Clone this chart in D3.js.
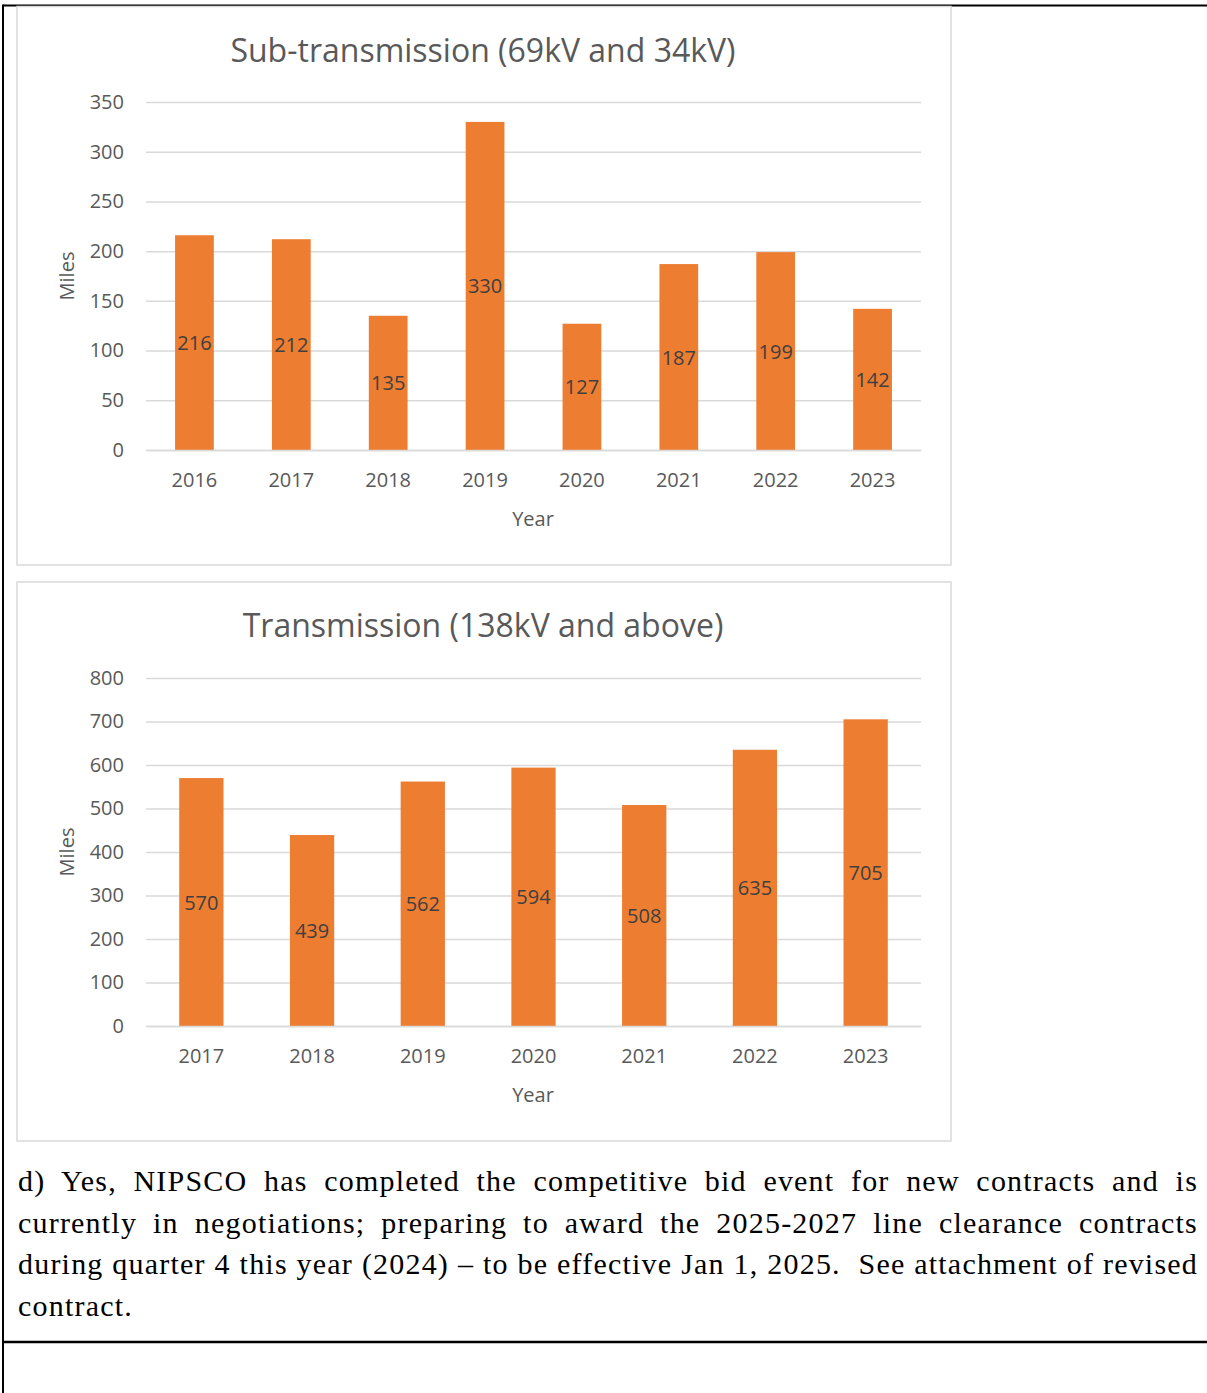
<!DOCTYPE html>
<html>
<head>
<meta charset="utf-8">
<script src="https://cdn.jsdelivr.net/npm/d3@7"></script>
<style>
  html, body { margin: 0; padding: 0; background: #fff; }
  #wrap { position: relative; width: 1207px; height: 1393px; overflow: hidden; }
  svg { position: absolute; left: 0; top: 0; }
  #para { position: absolute; left: 18px; top: 1160px; width: 1180px;
          font-family: "Liberation Serif", "DejaVu Serif", serif; font-size: 30px; color: #000;
          letter-spacing: 1.2px; }
  #para div { line-height: 41.7px; white-space: nowrap; }
  #para div.j { text-align: justify; text-align-last: justify; white-space: normal; }
</style>
</head>
<body>
<div id="wrap">
<svg id="chart" width="1207" height="1393"></svg>
<div id="para">
  <div class="j">d) Yes, NIPSCO has completed the competitive bid event for new contracts and is</div>
  <div class="j">currently in negotiations; preparing to award the 2025-2027 line clearance contracts</div>
  <div class="j">during quarter 4 this year (2024) – to be effective Jan 1, 2025.&nbsp; See attachment of revised</div>
  <div>contract.</div>
</div>
</div>
<script>
const subYears = ["2016","2017","2018","2019","2020","2021","2022","2023"];
const subValues = [216, 212, 135, 330, 127, 187, 199, 142];
const subTicks = [0, 50, 100, 150, 200, 250, 300, 350];

const transYears = ["2017","2018","2019","2020","2021","2022","2023"];
const transValues = [570, 439, 562, 594, 508, 635, 705];
const transTicks = [0, 100, 200, 300, 400, 500, 600, 700, 800];

const svg = d3.select("#chart");
const FONT = "'Open Sans', 'Noto Sans', sans-serif";

// page lines
svg.append("line").attr("x1", 3).attr("x2", 1207).attr("y1", 5.5).attr("y2", 5.5).attr("stroke", "#000").attr("stroke-width", 2);
svg.append("line").attr("x1", 3).attr("x2", 3).attr("y1", 4.5).attr("y2", 1393).attr("stroke", "#000").attr("stroke-width", 2);
svg.append("line").attr("x1", 3).attr("x2", 1207).attr("y1", 1342).attr("y2", 1342).attr("stroke", "#000").attr("stroke-width", 2.5);

function drawChart(cfg) {
  const g = svg.append("g");
  g.append("rect").attr("x", cfg.box[0]).attr("y", cfg.box[1])
    .attr("width", cfg.box[2]).attr("height", cfg.box[3])
    .attr("fill", "#fff").attr("stroke", "#d9d9d9").attr("stroke-width", 1.5);

  const x = d3.scaleBand().domain(cfg.cats).range([146, 921]).paddingInner(0.6).paddingOuter(0.3);
  const y = d3.scaleLinear().domain([0, cfg.ticks[cfg.ticks.length - 1]]).range([cfg.y0, cfg.yTop]);

  g.append("text").attr("x", 483).attr("y", cfg.titleY).attr("text-anchor", "middle")
    .attr("dominant-baseline", "central").attr("font-family", FONT).attr("font-size", 32)
    .attr("fill", "#595959").text(cfg.title);

  // gridlines
  const yAxis = d3.axisLeft(y).tickValues(cfg.ticks).tickSize(-(921 - 146)).tickPadding(22).tickFormat(d3.format("d"));
  const ya = g.append("g").attr("transform", "translate(146,0)").call(yAxis);
  ya.select(".domain").remove();
  ya.selectAll(".tick line").attr("stroke", "#d9d9d9").attr("stroke-width", 1.5);
  ya.selectAll(".tick text").attr("font-family", FONT).attr("font-size", 20).attr("fill", "#595959");

  // bars
  g.selectAll("rect.bar").data(cfg.values).join("rect").attr("class", "bar")
    .attr("x", (d, i) => x(cfg.cats[i])).attr("width", x.bandwidth())
    .attr("y", d => y(d)).attr("height", d => y(0) - y(d)).attr("fill", "#ED7D31");

  // data labels
  g.selectAll("text.lbl").data(cfg.values).join("text").attr("class", "lbl")
    .attr("x", (d, i) => x(cfg.cats[i]) + x.bandwidth() / 2)
    .attr("y", d => (y(0) + y(d)) / 2)
    .attr("text-anchor", "middle").attr("dominant-baseline", "central")
    .attr("font-family", FONT).attr("font-size", 20).attr("fill", "#404040")
    .text(d => d);

  // x axis
  const xAxis = d3.axisBottom(x).tickSize(0).tickPadding(23);
  const xa = g.append("g").attr("transform", `translate(0,${cfg.y0})`).call(xAxis);
  xa.select(".domain").attr("stroke", "#d9d9d9").attr("stroke-width", 1.5);
  xa.selectAll(".tick text").attr("font-family", FONT).attr("font-size", 20).attr("fill", "#595959");

  g.append("text").attr("x", 533).attr("y", cfg.y0 + 68).attr("text-anchor", "middle")
    .attr("dominant-baseline", "central").attr("font-family", FONT).attr("font-size", 20)
    .attr("fill", "#595959").text("Year");

  g.append("text").attr("transform", `translate(66,${(cfg.y0 + cfg.yTop) / 2}) rotate(-90)`)
    .attr("text-anchor", "middle").attr("dominant-baseline", "central")
    .attr("font-family", FONT).attr("font-size", 20).attr("fill", "#595959").text("Miles");
}

drawChart({
  box: [17, 6.5, 934, 558.5], title: "Sub-transmission (69kV and 34kV)", titleY: 49,
  cats: subYears, values: subValues, ticks: subTicks, y0: 450, yTop: 102
});
drawChart({
  box: [17, 582, 934, 559], title: "Transmission (138kV and above)", titleY: 624,
  cats: transYears, values: transValues, ticks: transTicks, y0: 1026, yTop: 678
});
</script>
</body>
</html>
